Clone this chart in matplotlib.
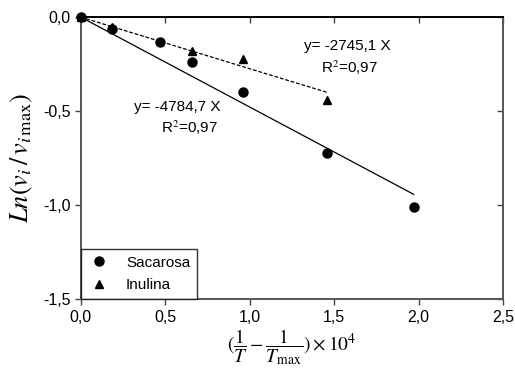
import numpy as np
import matplotlib.pyplot as plt
from matplotlib.ticker import FuncFormatter

plt.rcParams['font.family'] = ['Liberation Sans', 'DejaVu Sans']
plt.rcParams['mathtext.fontset'] = 'stix'

# data (x = (1/T - 1/Tmax) x 10^4)
x_sac = [0.0, 0.184, 0.47, 0.66, 0.96, 1.46, 1.97]
y_sac = [0.0, -0.064, -0.134, -0.238, -0.40, -0.725, -1.01]
x_inu = [0.0, 0.184, 0.66, 0.96, 1.46]
y_inu = [0.0, -0.05, -0.18, -0.225, -0.44]

slope_sac = -0.47847
slope_inu = -0.27451

fig = plt.figure(figsize=(5.15, 3.81), dpi=100)
ax = fig.add_axes([0.157, 0.215, 0.82, 0.74])

# fitted lines through origin
xs = np.array([0, max(x_sac)])
xi = np.array([0, max(x_inu)])
ax.plot(xs, slope_sac * xs, color='black', lw=0.9)
ax.plot(xi, slope_inu * xi, color='black', lw=0.9, ls=(0, (3, 1.5)))

ax.plot(x_sac, y_sac, 'o', color='black', ms=6.5, label='Sacarosa', clip_on=False, zorder=3)
ax.plot(x_inu, y_inu, '^', color='black', ms=6, label='Inulina', clip_on=False, zorder=3)

ax.text(0.57, -0.48, 'y= -4784,7 X', ha='center', va='center', fontsize=11)
ax.text(0.645, -0.59, 'R$^2$=0,97', ha='center', va='center', fontsize=11)
ax.text(1.58, -0.155, 'y= -2745,1 X', ha='center', va='center', fontsize=11)
ax.text(1.59, -0.27, 'R$^2$=0,97', ha='center', va='center', fontsize=11)

ticks_x = [0, 0.5, 1.0, 1.5, 2.0, 2.5]
ticks_y = [-1.5, -1.0, -0.5, 0.0]
ax.set_xlim(0, 2.5)
ax.set_ylim(-1.5, 0)
ax.set_xticks(ticks_x)
ax.set_yticks(ticks_y)
fmt = FuncFormatter(lambda v, p: ('%.1f' % v).replace('.', ','))
ax.xaxis.set_major_formatter(fmt)
ax.yaxis.set_major_formatter(fmt)
ax.tick_params(labelsize=11.5, color='#444444', length=4, width=1, direction='out')

# inward ticks on top and right
top = ax.secondary_xaxis('top')
top.set_xticks(ticks_x)
top.tick_params(direction='in', length=4, width=1, color='#444444', labeltop=False)
right = ax.secondary_yaxis('right')
right.set_yticks(ticks_y)
right.tick_params(direction='in', length=4, width=1, color='#444444', labelright=False)
top.spines['top'].set_visible(False)
right.spines['right'].set_visible(False)

for s in ax.spines.values():
    s.set_linewidth(1.4)
    s.set_color('#555555')
ax.spines['top'].set_color('black')

ax.set_ylabel(r'$Ln(v_i\,/\,v_{i\,\mathrm{max}})$', fontsize=19, labelpad=6)
ax.set_xlabel(r'$(\dfrac{1}{T}-\dfrac{1}{T_{\mathrm{max}}})\times10^4$', fontsize=14, labelpad=2)

leg = ax.legend(loc='lower left', fancybox=False, edgecolor='black', fontsize=11,
                borderaxespad=0, handletextpad=1.0, handlelength=1.5,
                labelspacing=0.55, borderpad=0.45)
leg.get_frame().set_linewidth(1.0)

fig.savefig('out.png', dpi=100)
